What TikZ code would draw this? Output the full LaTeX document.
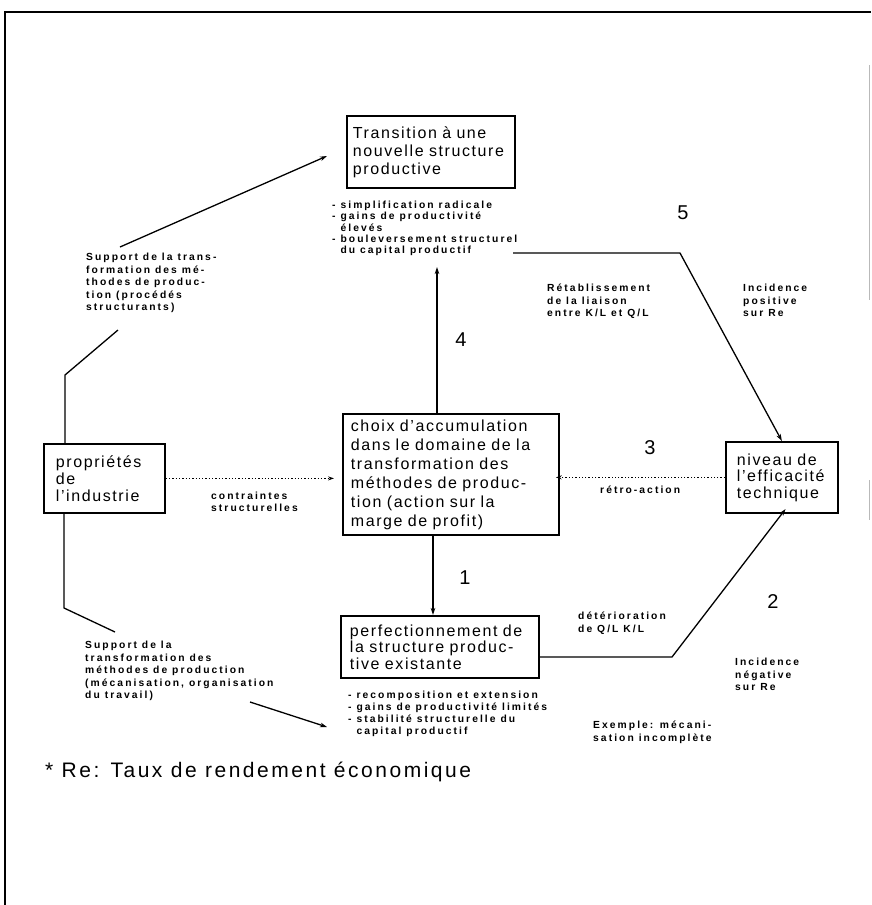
\documentclass[tikz,border=0pt]{standalone}
\usepackage{fontspec}
\setmainfont{Liberation Sans}[LetterSpace=10]
\newfontfamily\etiq{Liberation Sans}[LetterSpace=20]
\newfontfamily\note{Liberation Sans}[LetterSpace=12]
\usetikzlibrary{arrows.meta}

\begin{document}
\begin{tikzpicture}[x=1pt,y=-1pt,
  boite/.style={draw, line width=1.8pt, anchor=north west, align=left,
    inner ysep=0pt},
  etiquette/.style={anchor=north west, align=left, inner sep=0pt,
    font=\etiq\bfseries\fontsize{10.3}{12.5}\selectfont},
  numero/.style={inner sep=0pt, font=\fontsize{20}{20}\selectfont},
  lien/.style={line width=1.3pt},
  fleche/.style={lien, -{Stealth[length=7pt,width=4.5pt]}},
  pointille/.style={line width=1.3pt, dotted, -{Stealth[length=6pt,width=4pt]}},
]
\useasboundingbox (0,0) rectangle (871,905);

% cadre
\draw[line width=2pt] (5,905) -- (5,12) -- (871,12);
\draw[gray!55, line width=0.8pt] (869,65) -- (869,300);
\draw[gray!55, line width=0.8pt] (869,480) -- (869,520);

% boites
\node[boite, inner xsep=6pt, text width=156pt, minimum height=72pt,
  font=\fontsize{16}{18}\selectfont] (trans) at (346,115)
  {Transition à une\\nouvelle structure\\productive};
\node[boite, inner xsep=8pt, text width=200pt, minimum height=121pt,
  font=\fontsize{16}{19}\selectfont] (choix) at (342,413)
  {choix d'accumulation\\dans le domaine de la\\transformation des\\méthodes de produc-\\tion (action sur la\\marge de profit)};
\node[boite, inner xsep=12pt, text width=97pt, minimum height=69pt,
  font=\fontsize{16}{17}\selectfont] (prop) at (43,443)
  {propriétés\\de\\l'industrie};
\node[boite, inner xsep=11pt, text width=90pt, minimum height=71pt,
  font=\fontsize{16}{16.5}\selectfont] (effic) at (725,441)
  {niveau de\\l'efficacité\\technique};
\node[boite, inner xsep=9pt, text width=180pt, minimum height=62pt,
  font=\fontsize{16}{16.5}\selectfont] (perf) at (340,615)
  {perfectionnement de\\la structure produc-\\tive existante};

% listes
\node[etiquette, font=\etiq\bfseries\fontsize{10.3}{11.2}\selectfont] (puceH) at (332,201)
  {- simplification radicale\\- gains de productivité\\\phantom{- }élevés\\- bouleversement structurel\\\phantom{- }du capital productif};
\node[etiquette, font=\etiq\bfseries\fontsize{10.3}{12}\selectfont] (puceB) at (348,691)
  {- recomposition et extension\\- gains de productivité limités\\- stabilité structurelle du\\\phantom{- }capital productif};

% etiquettes
\node[etiquette] (supH) at (86,253)
  {Support de la trans-\\formation des mé-\\thodes de produc-\\tion (procédés\\structurants)};
\node[etiquette, font=\etiq\bfseries\fontsize{10.3}{11.5}\selectfont] (contr) at (211,492)
  {contraintes\\structurelles};
\node[etiquette] (retro) at (600,486) {rétro-action};
\node[etiquette] (retab) at (547,284) {Rétablissement\\de la liaison\\entre K/L et Q/L};
\node[etiquette] (incpos) at (743,284) {Incidence\\positive\\sur Re};
\node[etiquette] (deter) at (578,612) {détérioration\\de Q/L K/L};
\node[etiquette] (incneg) at (735,658) {Incidence\\négative\\sur Re};
\node[etiquette] (exemple) at (593,721) {Exemple: mécani-\\sation incomplète};
\node[etiquette] (supB) at (85,641)
  {Support de la\\transformation des\\méthodes de production\\(mécanisation, organisation\\du travail)};

% numeros
\node[numero] (n5) at (683,213) {5};
\node[numero] (n4) at (461,340) {4};
\node[numero] (n3) at (650,448) {3};
\node[numero] (n1) at (465,578) {1};
\node[numero] (n2) at (773,602) {2};

% note
\node[anchor=west, inner sep=0pt, font=\note\fontsize{21}{21}\selectfont] (renvoi) at (45,772)
  {* Re: Taux de rendement économique};

% points de passage
\coordinate (cTL) at (65,375);
\coordinate (cTLb) at (118,330);
\coordinate (aTL) at (120,247);
\coordinate (aTLfin) at (327,156);
\coordinate (cBL) at (64,608);
\coordinate (cBLb) at (115,632);
\coordinate (aBL) at (250,702);
\coordinate (aBLfin) at (327,727);
\coordinate (f4) at (437,267);
\coordinate (axe1) at (433,578);
\coordinate (d5) at (513,253);
\coordinate (c5) at (680,253);
\coordinate (c2) at (672,657);

% connecteurs
\draw[lien] (prop.north -| cTL) -- (cTL) -- (cTLb);
\draw[fleche] (aTL) -- (aTLfin);
\draw[lien] (prop.south -| cBL) -- (cBL) -- (cBLb);
\draw[fleche] (aBL) -- (aBLfin);
\draw[pointille, shorten >=8pt] (prop.east) -- (choix.west |- prop.east);
\draw[pointille, shorten >=-4pt] (effic.west) -- (choix.east |- effic.west);
\draw[fleche] (choix.north -| f4) -- (f4);
\draw[fleche] (choix.south -| axe1) -- (perf.north -| axe1);
\draw[fleche] (d5) -- (c5) -- (effic.north);
\draw[fleche, shorten >=-6pt] (perf.east |- c2) -- (c2) -- (effic.south);
\end{tikzpicture}
\end{document}
